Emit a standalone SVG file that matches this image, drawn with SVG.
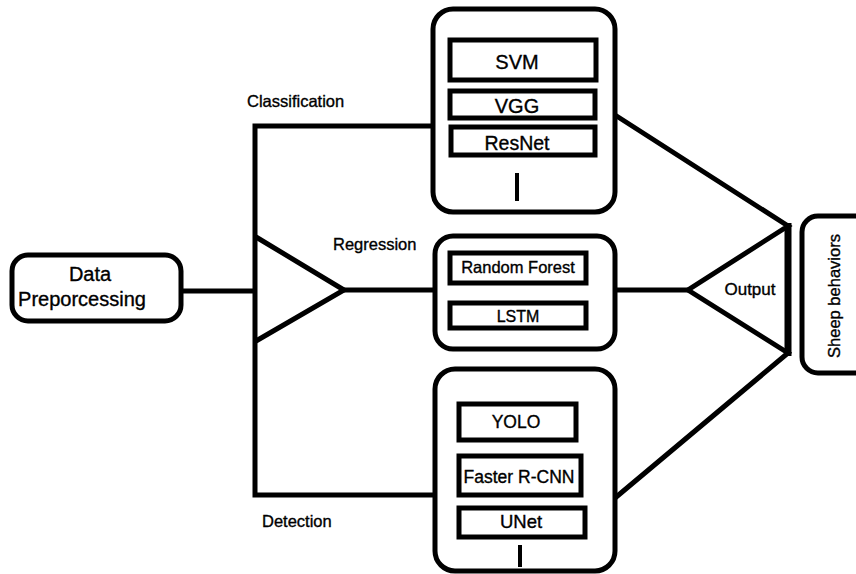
<svg xmlns="http://www.w3.org/2000/svg" width="856" height="574" viewBox="0 0 856 574">
  <style>
    .box { fill: #fff; stroke: #000; stroke-width: 5; }
    .inner { fill: #fff; stroke: #000; stroke-width: 5; }
    .wire { fill: none; stroke: #000; stroke-width: 5; stroke-linejoin: miter; }
    text { font-family: "Liberation Sans", Arial, sans-serif; fill: #000; stroke: #000; stroke-width: 0.35; }
    .lbl { font-size: 16.5px; }
    .mdl { text-anchor: middle; }
  </style>
  <rect width="856" height="574" fill="#fff"/>

  <!-- connectors -->
  <g id="connectors">
    <!-- input to splitter -->
    <line class="wire" x1="180" y1="291" x2="256" y2="291"/>
    <!-- main vertical bus with top and bottom branches -->
    <polyline class="wire" points="435,126 255,126 255,495 435,495"/>
    <!-- regression splitter triangle -->
    <polyline class="wire" points="256,237 344,290 256,341"/>
    <line class="wire" x1="344" y1="290" x2="436" y2="290"/>
    <!-- outputs merge -->
    <line class="wire" x1="615" y1="290" x2="688" y2="290"/>
    <polyline class="wire" points="615,115 788,226 688,290 788,353 615,498"/>
    <line x1="788" y1="223" x2="788" y2="356" stroke="#000" stroke-width="7"/>
  </g>

  <g id="data-preprocessing">
    <rect class="box" x="12" y="255" width="169" height="66" rx="16"/>
    <text class="mdl" x="90" y="281" font-size="20">Data</text>
    <text class="mdl" x="82" y="306" font-size="20">Preporcessing</text>
  </g>

  <g id="label-classification"><text class="lbl" x="247" y="107">Classification</text></g>
  <g id="label-regression"><text class="lbl" x="333" y="250">Regression</text></g>
  <g id="label-detection"><text class="lbl" x="262" y="527">Detection</text></g>
  <g id="label-output"><text x="750" y="295" font-size="17" class="mdl">Output</text></g>

  <g id="classification">
    <rect class="box" x="433" y="9" width="182" height="203" rx="20"/>
    <rect class="inner" x="450" y="40" width="146" height="40"/>
    <text class="mdl" x="517" y="69" font-size="20">SVM</text>
    <rect class="inner" x="450" y="91" width="145" height="27"/>
    <text class="mdl" x="517" y="113" font-size="20">VGG</text>
    <rect class="inner" x="451" y="127" width="144" height="28"/>
    <text class="mdl" x="517" y="150" font-size="19.5">ResNet</text>
    <line x1="517" y1="173" x2="517" y2="201" stroke="#000" stroke-width="4"/>
  </g>

  <g id="regression">
    <rect class="box" x="435" y="236" width="180" height="113" rx="18"/>
    <rect class="inner" x="450" y="253" width="136" height="30"/>
    <text class="mdl" x="518" y="273" font-size="16.5">Random Forest</text>
    <rect class="inner" x="450" y="303" width="136" height="25"/>
    <text class="mdl" x="518" y="322" font-size="16">LSTM</text>
  </g>

  <g id="detection">
    <rect class="box" x="435" y="369" width="180" height="202" rx="20"/>
    <rect class="inner" x="459" y="404" width="117" height="36"/>
    <text class="mdl" x="516" y="428" font-size="17.5">YOLO</text>
    <rect class="inner" x="459" y="456" width="122" height="39"/>
    <text class="mdl" x="519" y="483" font-size="17.5">Faster R-CNN</text>
    <rect class="inner" x="459" y="508" width="126" height="29"/>
    <text class="mdl" x="521" y="528" font-size="18.5">UNet</text>
    <line x1="520" y1="545" x2="520" y2="567" stroke="#000" stroke-width="4"/>
  </g>

  <g id="sheep-behaviors">
    <rect class="box" x="802" y="216" width="70" height="157" rx="16"/>
    <text class="mdl" font-size="16.5" transform="translate(840,296) rotate(-90)">Sheep behaviors</text>
  </g>
</svg>
